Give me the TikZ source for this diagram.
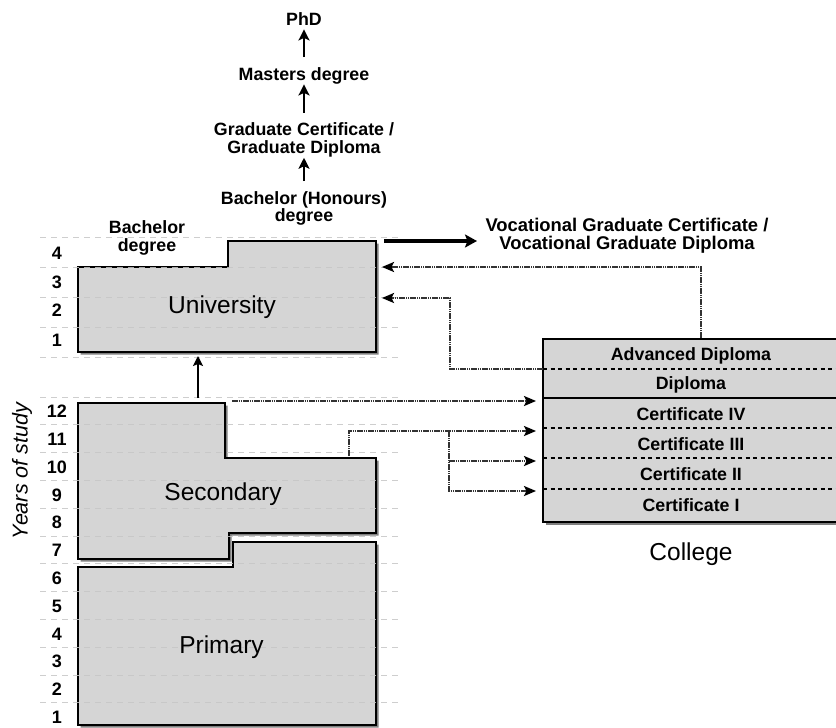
\documentclass[tikz,border=0pt]{standalone}
\usepackage{fontspec}
\setmainfont{Liberation Sans}
\usetikzlibrary{arrows.meta,shadows}
\definecolor{boxgray}{HTML}{D5D5D5}
\definecolor{flowgray}{HTML}{333333}

\begin{document}
\begin{tikzpicture}[x=1pt,y=-1pt,
  stage/.style={draw=black, line width=2.4pt, fill=boxgray, line join=miter,
    drop shadow={shadow xshift=2.5pt, shadow yshift=-2.5pt, opacity=0.5, fill=black}},
  gridline/.style={gray!45, line width=0.9pt, dash pattern=on 6pt off 5pt, opacity=0.85},
  lbl/.style={font=\bfseries\fontsize{17.8}{18}\selectfont, inner sep=0pt,
    text height=12.8pt, text depth=3.6pt},
  lbltwo/.style={font=\bfseries\fontsize{17.8}{17.5}\selectfont, inner sep=0pt, align=center},
  big/.style={font=\fontsize{24.5}{28}\selectfont, inner sep=0pt, text height=17.5pt, text depth=0pt},
  yr/.style={font=\bfseries\fontsize{18}{20}\selectfont, inner sep=0pt, text height=12.9pt, text depth=0pt},
  up/.style={line width=2.6pt, -{Stealth[length=11pt,width=11pt,inset=2.5pt]},
    shorten <=10pt, shorten >=0.5pt},
  flow/.style={line width=2.2pt, draw=flowgray, dash pattern=on 1.6pt off 0.6pt,
    -{Stealth[length=12pt,width=10pt,inset=2.5pt,color=black]}},
  tick/.style={line width=2.2pt, dash pattern=on 4pt off 3.5pt},
]
\clip (0,0) rectangle (836,728);
\fill[white] (0,0) rectangle (836,728);

% ---------- stages ----------
\draw[stage] (78,267) -- (228,267) -- (228,241) -- (376,241) -- (376,352) -- (78,352) -- cycle;
\draw[stage] (78,403) -- (225,403) -- (225,458) -- (376,458) -- (376,533) -- (229,533)
  -- (229,559) -- (78,559) -- cycle;
\draw[stage] (78,567) -- (233,567) -- (233,542) -- (376,542) -- (376,725) -- (78,725) -- cycle;

% year grid
\foreach \y in {237,267,297,327,357}
  \draw[gridline] (40,\y) -- (402,\y);
\foreach \k in {0,...,11}
  \draw[gridline] (40,{397+27.8*\k}) -- (402,{397+27.8*\k});

% ---------- college ----------
\draw[stage] (543,339) rectangle (842,522);
\draw[tick] (543,369) -- (842,369);
\draw[line width=2.4pt] (543,398) -- (842,398);
\draw[tick] (543,428) -- (842,428);
\draw[tick] (543,458) -- (842,458);
\draw[tick] (543,489) -- (842,489);

\node[lbl] (advdip) at (691,356) {Advanced Diploma};
\node[lbl] (dip)    at (691,385) {Diploma};
\node[lbl] (cert4)  at (691,415.5) {Certificate IV};
\node[lbl] (cert3)  at (691,445.5) {Certificate III};
\node[lbl] (cert2)  at (691,475.5) {Certificate II};
\node[lbl] (cert1)  at (691,506.5) {Certificate I};
\node[big] (college) at (691,551.5) {College};

% ---------- stage names ----------
\node[big] (uni)  at (222,304.5) {University};
\node[big] (sec)  at (223,492) {Secondary};
\node[big] (prim) at (221.5,645) {Primary};
\node[lbltwo] (bachdeg) at (147,238) {Bachelor\\degree};

% ---------- year numbers ----------
\foreach \n/\y in {4/253,3/282.5,2/310.5,1/340.5}
  \node[yr] (u\n) at (57,\y) {\n};
\foreach \n in {1,...,12}
  \node[yr] (s\n) at (57,{717-27.8*(\n-1)}) {\n};
\node[font=\itshape\fontsize{21.5}{24}\selectfont, rotate=90, inner sep=0pt] (yos) at (22,471) {Years of study};

% ---------- postgraduate ladder ----------
\node[lbl] (phd)     at (304,20.5) {PhD};
\node[lbl] (masters) at (304,75.5) {Masters degree};
\node[lbltwo] (gradcert) at (304,140) {Graduate Certificate /\\Graduate Diploma};
\node[lbltwo] (honours)  at (304,208.5) {Bachelor (Honours)\\degree};
\draw[up] (masters) -- (phd);
\draw[up] (gradcert) -- (masters);
\draw[up] (honours) -- (gradcert);

\node[lbltwo, font=\bfseries\fontsize{18.4}{17.5}\selectfont] (voc) at (627,235.5)
  {Vocational Graduate Certificate /\\Vocational Graduate Diploma};

% ---------- pathways ----------
\coordinate (uniOut) at (384,241);
\coordinate (vocIn)  at (477,241);
\draw[line width=3.2pt, -{Stealth[length=12pt,width=13pt,inset=2.5pt]}] (uniOut) -- (vocIn);

\coordinate (secTop) at (198,398);
\coordinate (uniBot) at (198,356);
\draw[line width=1.5pt, -{Stealth[length=10pt,width=10pt,inset=2pt]}] (secTop) -- (uniBot);

\coordinate (advTop)  at (701,338);
\coordinate (uniIn4)  at (382,267);
\draw[flow] (advTop) |- (uniIn4);

\coordinate (advLeft) at (543,369);
\coordinate (bend)    at (450,298);
\coordinate (uniIn3)  at (382,298);
\draw[flow] (advLeft) -| (bend) -- (uniIn3);

\coordinate (sec12) at (232,401);
\coordinate (c4in)  at (536,401);
\draw[flow] (sec12) -- (c4in);

\coordinate (sec10) at (349,456);
\coordinate (c3in)  at (536,431);
\coordinate (fork)  at (449,431);
\coordinate (c2in)  at (536,461);
\coordinate (c1in)  at (536,491);
\draw[flow] (sec10) |- (c3in);
\draw[flow] (fork) |- (c1in);
\draw[flow] (fork |- c2in) -- (c2in);
\end{tikzpicture}
\end{document}
